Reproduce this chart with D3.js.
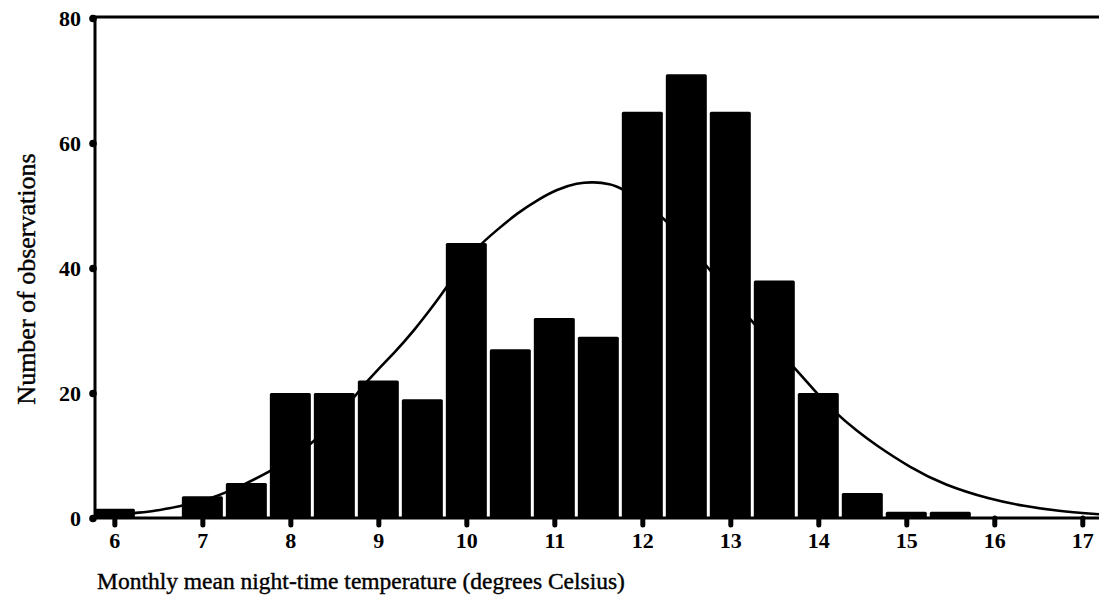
<!DOCTYPE html>
<html>
<head>
<meta charset="utf-8">
<script src="https://cdn.jsdelivr.net/npm/d3@7"></script>
<style>
  html, body { margin: 0; padding: 0; background: #fff; }
  svg { display: block; }
  text { font-family: "Liberation Serif", "Times New Roman", serif; fill: #000; }
</style>
</head>
<body>
<svg id="chart" width="1099" height="609"></svg>
<script>
// ---- data ----
const binCenters = [6, 6.5, 7, 7.5, 8, 8.5, 9, 9.5, 10, 10.5, 11, 11.5, 12, 12.5, 13, 13.5, 14, 14.5, 15, 15.5];
const counts     = [1.5, 0, 3.5, 5.6, 20, 20, 22, 19, 44, 27, 32, 29, 65, 71, 65, 38, 20, 4, 1, 1];
const curveTemp  = [6.0, 6.23, 6.45, 6.72, 7.1, 7.51, 7.7, 8.2, 8.6, 8.875, 9.216, 9.41, 9.56, 9.69, 9.9, 10.125, 10.35, 10.58, 10.81, 11.03, 11.26, 11.45, 11.64, 11.74, 12.2, 12.7, 13.2, 13.68, 13.95, 14.18, 14.44, 14.64, 15.05, 15.43, 15.95, 16.34, 16.72, 17.19];
const curveCount = [0.4, 0.8, 1.1, 1.8, 3.0, 5.6, 6.9, 11, 17, 22.1, 26.9, 30.1, 32.8, 35.2, 39.5, 43.4, 46.1, 48.8, 50.9, 52.6, 53.6, 53.8, 53.4, 53.0, 49, 41, 32, 24.8, 20.5, 17.0, 13.9, 11.8, 8.0, 5.3, 3.0, 1.9, 1.1, 0.6];
const xTicks = [6, 7, 8, 9, 10, 11, 12, 13, 14, 15, 16, 17];
const yTicks = [0, 20, 40, 60, 80];
const binWidth = 0.5;
const xTitle = "Monthly mean night-time temperature (degrees Celsius)";
const yTitle = "Number of observations";

// ---- layout ----
const svg = d3.select("#chart");
const x = d3.scaleLinear().domain([5.78, 17.19]).range([95, 1099]);
const y = d3.scaleLinear().domain([0, 80]).range([518, 18]);

svg.append("rect").attr("width", 1099).attr("height", 609).attr("fill", "#fff");

// fitted curve (behind bars)
const pts = curveTemp.map((t, i) => [t, curveCount[i]]);
svg.append("path")
  .datum(pts)
  .attr("fill", "none")
  .attr("stroke", "#000")
  .attr("stroke-width", 2.6)
  .attr("d", d3.line().x(d => x(d[0])).y(d => y(d[1])).curve(d3.curveBasis));

// bars
const gap = 3;
svg.append("g").selectAll("rect")
  .data(binCenters.map((c, i) => ({c, v: counts[i]})).filter(d => d.v > 0))
  .join("rect")
  .attr("x", d => Math.max(x(d.c - binWidth / 2) + gap / 2, 95))
  .attr("width", d => x(d.c + binWidth / 2) - gap / 2 - Math.max(x(d.c - binWidth / 2) + gap / 2, 95))
  .attr("y", d => y(d.v))
  .attr("height", d => y(0) - y(d.v))
  .attr("rx", 1.5)
  .attr("fill", "#000");

// frame line along the top
svg.append("line").attr("x1", 93).attr("x2", 1099).attr("y1", 17).attr("y2", 17)
  .attr("stroke", "#000").attr("stroke-width", 3);

// y axis
const yAxis = svg.append("g").attr("transform", "translate(95,0)")
  .call(d3.axisLeft(y).tickValues(yTicks).tickSize(0).tickPadding(14).tickFormat(d3.format("d")));
yAxis.select(".domain").attr("stroke", "#000").attr("stroke-width", 3).attr("d", "M0,17V519");
yAxis.selectAll(".tick text")
  .style("font-family", '"Liberation Serif", serif')
  .style("font-weight", "bold").style("font-size", "22px").attr("dy", "0.34em");
yAxis.selectAll(".tick").append("circle").attr("cx", -2).attr("r", 3.8).attr("fill", "#000");

// x axis
const xAxis = svg.append("g").attr("transform", "translate(0,518)")
  .call(d3.axisBottom(x).tickValues(xTicks).tickSize(7).tickPadding(7).tickFormat(d3.format("d")));
xAxis.select(".domain").attr("stroke", "#000").attr("stroke-width", 3).attr("d", "M93,0H1099");
xAxis.selectAll(".tick line").attr("stroke", "#000").attr("stroke-width", 5).attr("stroke-linecap", "round");
xAxis.selectAll(".tick text")
  .style("font-family", '"Liberation Serif", serif')
  .style("font-weight", "bold").style("font-size", "22px");

// titles
svg.append("text")
  .attr("transform", "translate(35,279) rotate(-90)")
  .attr("text-anchor", "middle")
  .style("font-size", "26px")
  .attr("stroke", "#000").attr("stroke-width", 0.4)
  .text(yTitle);

svg.append("text")
  .attr("x", 97).attr("y", 589)
  .style("font-size", "23.5px")
  .attr("stroke", "#000").attr("stroke-width", 0.4)
  .text(xTitle);
</script>
</body>
</html>
